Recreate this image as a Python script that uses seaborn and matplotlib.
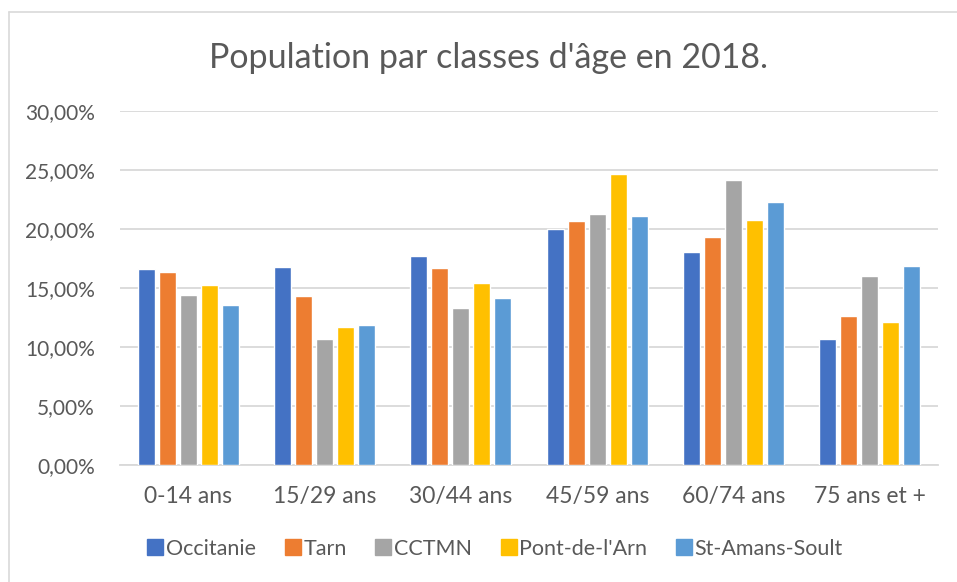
import pandas as pd
import seaborn as sns
import matplotlib.pyplot as plt
from matplotlib.lines import Line2D
from matplotlib.ticker import FuncFormatter

# values (percent of population)
classes = ["0-14 ans", "15/29 ans", "30/44 ans", "45/59 ans", "60/74 ans", "75 ans et +"]
territoires = ["Occitanie", "Tarn", "CCTMN", "Pont-de-l'Arn", "St-Amans-Soult"]
occitanie = [16.6, 16.8, 17.7, 20.0, 18.1, 10.7]
tarn = [16.4, 14.3, 16.7, 20.7, 19.3, 12.6]
cctmn = [14.4, 10.7, 13.3, 21.3, 24.2, 16.0]
pont_de_larn = [15.3, 11.7, 15.4, 24.7, 20.8, 12.1]
st_amans_soult = [13.6, 11.9, 14.2, 21.1, 22.3, 16.9]
couleurs = ["#4472C4", "#ED7D31", "#A5A5A5", "#FFC000", "#5B9BD5"]


def main():
    series = [occitanie, tarn, cctmn, pont_de_larn, st_amans_soult]
    rows = []
    for nom, vals in zip(territoires, series):
        for c, v in zip(classes, vals):
            rows.append({"classe": c, "territoire": nom, "valeur": v})
    df = pd.DataFrame(rows)

    sns.set_style("white")
    plt.rcParams['font.family'] = ['Lato', 'DejaVu Sans']
    gris = "#595959"

    fig = plt.figure(figsize=(9.57, 5.82), dpi=100)
    ax = fig.add_axes([0.1254, 0.201, 0.8548, 0.608])
    sns.barplot(data=df, x="classe", y="valeur", hue="territoire", order=classes,
                hue_order=territoires, palette=couleurs, width=0.77, gap=0.2,
                saturation=1, ax=ax, legend=False, zorder=3)

    ax.set_ylim(0, 30)
    ax.set_xlim(-0.5, 5.5)
    ax.set_yticks(range(0, 31, 5))
    ax.yaxis.set_major_formatter(FuncFormatter(lambda v, p: f"{v:.2f}%".replace(".", ",")))
    ax.grid(axis="y", color="#d9d9d9", linewidth=1.3, zorder=0)
    for s in ["top", "right", "left"]:
        ax.spines[s].set_visible(False)
    ax.spines["bottom"].set_color("#d9d9d9")
    ax.spines["bottom"].set_linewidth(1.3)
    ax.tick_params(axis="both", length=0, colors=gris)
    ax.tick_params(axis="y", labelsize=15, pad=18)
    ax.tick_params(axis="x", labelsize=16.5, pad=15)
    ax.set_xlabel("")
    ax.set_ylabel("")

    fig.text(0.510, 0.9, "Population par classes d'âge en 2018.", ha="center", va="center",
             fontsize=24.5, color=gris)

    handles = [Line2D([], [], marker="s", linestyle="", markersize=11, color=c) for c in couleurs]
    fig.legend(handles, territoires, loc="center", bbox_to_anchor=(0.517, 0.057), ncol=5,
               frameon=False, fontsize=15.5, labelcolor=gris, handletextpad=0.1,
               columnspacing=1.3, handlelength=0.8)

    # chart frame (top and left edges visible)
    fig.add_artist(Line2D([9 / 957, 1], [1 - 12 / 582, 1 - 12 / 582], color="#d9d9d9", linewidth=1.2))
    fig.add_artist(Line2D([9 / 957, 9 / 957], [0, 1 - 12 / 582], color="#d9d9d9", linewidth=1.2))

    plt.savefig("out.png", dpi=100)


if __name__ == '__main__':
    main()
